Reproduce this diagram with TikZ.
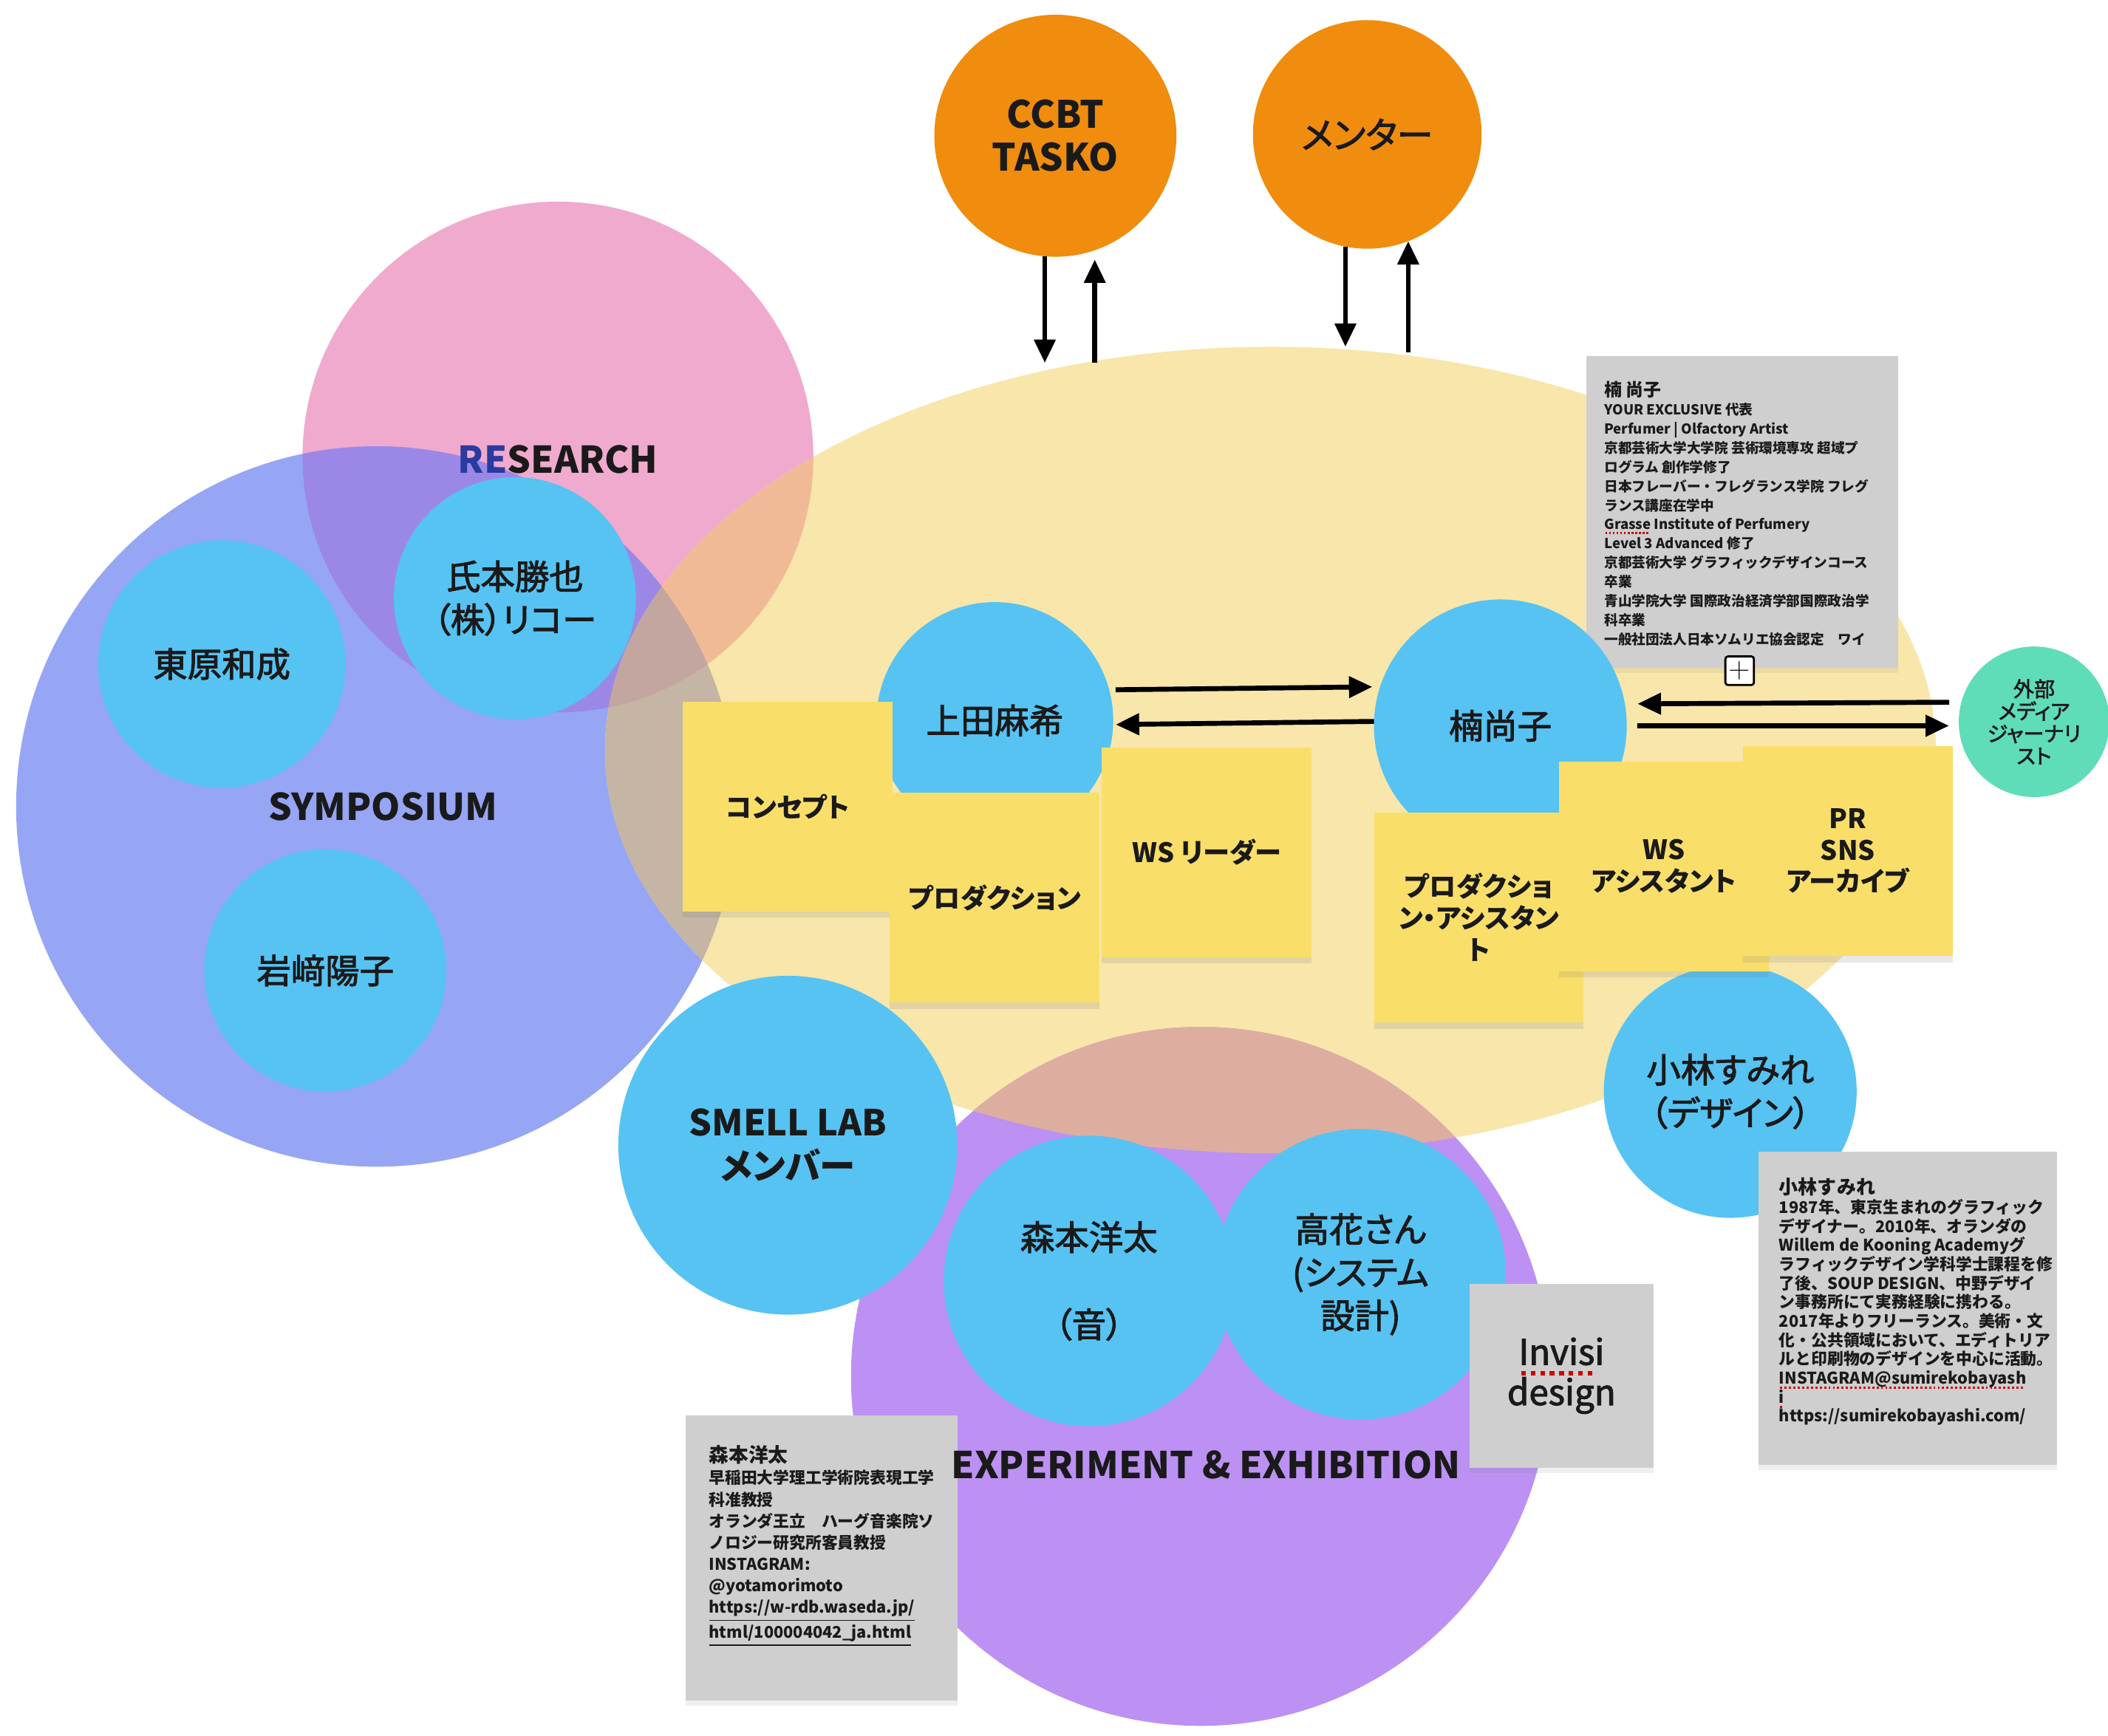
\documentclass[tikz,border=0pt]{standalone}
\usepackage{fontspec}
\newfontfamily\jp{Noto Sans CJK JP}[RawFeature=+palt]
\newfontfamily\jpm{Noto Sans CJK JP}[RawFeature=+palt, FakeBold=2.2]
\newfontfamily\jpn{Noto Sans CJK JP}
\usetikzlibrary{arrows.meta,shadows}
\definecolor{pinkc}{HTML}{F0AACD}
\definecolor{bluec}{HTML}{96A6F5}
\definecolor{yelc}{HTML}{F8E6AA}
\definecolor{purc}{HTML}{BC91F3}
\definecolor{pbc}{HTML}{9B88E6}
\definecolor{pyc}{HTML}{F1BA97}
\definecolor{byc}{HTML}{C4B5A5}
\definecolor{pbyc}{HTML}{C3A69F}
\definecolor{ypc}{HTML}{DDAE9F}
\definecolor{cyanc}{HTML}{56C3F3}
\definecolor{orc}{HTML}{F08C0E}
\definecolor{grnc}{HTML}{5FDCB8}
\definecolor{stk}{HTML}{F9DE6A}
\definecolor{noteg}{HTML}{CFCFCF}
\definecolor{txt}{HTML}{1A1A1A}
\definecolor{rebl}{HTML}{2A3A9E}
\newsavebox\spbox
\newcommand\spellu[1]{\sbox\spbox{#1}\rlap{\raisebox{-0.55ex}{\color{red!80!black}\leaders\hbox to 0.5ex{\hss\rule{0.24ex}{0.24ex}\hss}\hskip\wd\spbox}}\usebox\spbox}
\begin{document}
\begin{tikzpicture}[x=0.018195cm, y=-0.018195cm,
  every node/.style={text=txt},
  person/.style={circle, fill=cyanc, inner sep=0pt, outer sep=0pt, minimum size=#1*1.0354pt, align=center, font=\jpm\fontsize{13.2}{16.6}\selectfont},
  orb/.style={circle, fill=orc, inner sep=0pt, outer sep=0pt, minimum size=#1*1.0354pt, align=center},
  sticky/.style={rectangle, fill=stk, inner sep=0pt, minimum size=156*0.5177pt, align=center, font=\jp\bfseries\fontsize{10.3}{12.2}\selectfont, drop shadow={shadow xshift=0pt, shadow yshift=-2.5pt, opacity=0.18}},
  head/.style={font=\jp\bfseries\fontsize{14.2}{17}\selectfont},
  arr/.style={line width=1.9pt, -{Triangle[length=9pt,width=8pt]}},
  gnote/.style={rectangle, fill=noteg, inner sep=0pt, drop shadow={shadow xshift=0pt, shadow yshift=-2pt, opacity=0.12}},
  ntext/.style={anchor=north west, inner sep=0pt, align=left}]
\useasboundingbox (0,0) rectangle (1568,1291);
\fill[white] (0,0) rectangle (1568,1291);

% ---- large areas
\fill[pinkc] (415,340) circle[radius=190];
\fill[bluec] (280,600) circle[radius=268];
\fill[yelc] (945,558) ellipse[x radius=495, y radius=300];
\fill[purc] (893,1024) circle[radius=260];
\begin{scope}
  \clip (280,600) circle[radius=268];
  \fill[byc] (945,558) ellipse[x radius=495, y radius=300];
\end{scope}
\begin{scope}
  \clip (415,340) circle[radius=190];
  \fill[pbc] (280,600) circle[radius=268];
  \fill[pyc] (945,558) ellipse[x radius=495, y radius=300];
  \clip (280,600) circle[radius=268];
  \fill[pbyc] (945,558) ellipse[x radius=495, y radius=300];
\end{scope}
\begin{scope}
  \clip (945,558) ellipse[x radius=495, y radius=300];
  \fill[ypc] (893,1024) circle[radius=260];
\end{scope}

% ---- note for Kusunoki (under the circle)
\node[gnote, minimum width=232*0.5177pt, minimum height=232*0.5177pt] (n1) at (1296,381) {};
\node[ntext, font=\jpn\bfseries\fontsize{5.3}{7.35}\selectfont] (t1) at (1193,283) {%
{\fontsize{6.8}{7.35}\selectfont 楠 尚子}\\
YOUR EXCLUSIVE 代表\\
Perfumer | Olfactory Artist\\
京都芸術大学大学院 芸術環境専攻 超域プ\\
ログラム 創作学修了\\
日本フレーバー・フレグランス学院 フレグ\\
ランス講座在学中\\
\spellu{Grasse} Institute of Perfumery\\
Level 3 Advanced 修了\\
京都芸術大学 グラフィックデザインコース\\
卒業\\
青山学院大学 国際政治経済学部国際政治学\\
科卒業\\
一般社団法人日本ソムリエ協会認定　ワイ};
\node[draw=black, fill=white, line width=0.8pt, rounded corners=1pt, minimum size=11pt, inner sep=0pt, font=\fontsize{11}{11}\selectfont] (plus) at (1294,499) {+};

% ---- orange and green circles
\node[orb=90, font=\jp\bfseries\fontsize{14.5}{16.6}\selectfont] (ccbt) at (785,101) {CCBT\\TASKO};
\node[orb=85, font=\jpm\fontsize{14}{16.6}\selectfont] (mentor) at (1017,100) {メンター};
\node[circle, fill=grnc, inner sep=0pt, minimum size=56*1.0354pt, align=center, font=\jpm\fontsize{8}{8.6}\selectfont] (gaibu) at (1513,537) {外部\\メディア\\ジャーナリ\\スト};

% ---- people
\node[person=92] (higashi) at (165,494) {東原和成};
\node[person=90] (ujimoto) at (383,445) {氏本勝也\\（株）リコー};
\node[person=90] (iwasaki) at (242,722) {岩﨑陽子};
\node[person=88] (ueda) at (740,536) {上田麻希};
\node[person=94] (kusu) at (1116,540) {楠尚子};
\node[person=126, font=\jp\bfseries\fontsize{13.8}{16.6}\selectfont] (smell) at (586,852) {SMELL LAB\\メンバー};
\node[person=108] (morimoto) at (810,953) {森本洋太\\[17pt]（音）};
\node[person=108] (takahana) at (1012,948) {高花さん\\(システム\\設計)};
\node[person=94] (kobayashi) at (1287,812) {小林すみれ\\（デザイン）};

% ---- sticky notes
\node[sticky] (s1) at (586,600) {コンセプト};
\node[sticky] (s2) at (740,668) {プロダクション};
\node[sticky] (s3) at (897.5,634) {WS リーダー};
\node[sticky] (s4) at (1100,682.5) {プロダクショ\\ン・アシスタン\\ト};
\node[sticky] (s5) at (1237.5,644.5) {WS\\アシスタント};
\node[sticky] (s6) at (1374.5,633) {PR\\SNS\\アーカイブ};

% ---- notes
\node[gnote, minimum width=222*0.5177pt, minimum height=233*0.5177pt] (n2) at (1419,973.5) {};
\node[ntext, font=\jpn\bfseries\fontsize{6.2}{7.3}\selectfont] (t2) at (1323,876) {%
{\fontsize{7.4}{7.3}\selectfont 小林すみれ}\\
1987年、東京生まれのグラフィック\\
デザイナー。2010年、オランダの\\
Willem de Kooning Academyグ\\
ラフィックデザイン学科学士課程を修\\
了後、SOUP DESIGN、中野デザイ\\
ン事務所にて実務経験に携わる。\\
2017年よりフリーランス。美術・文\\
化・公共領域において、エディトリア\\
ルと印刷物のデザインを中心に活動。\\
\spellu{INSTAGRAM@sumirekobayash}\\
\spellu{i}\\
https://sumirekobayashi.com/};
\node[gnote, minimum width=202*0.5177pt, minimum height=212*0.5177pt] (n3) at (611,1159) {};
\node[ntext, font=\jpn\bfseries\fontsize{6.2}{8.3}\selectfont] (t3) at (527,1075) {%
{\fontsize{7.6}{8.3}\selectfont 森本洋太}\\
早稲田大学理工学術院表現工学\\
科准教授\\
オランダ王立　ハーグ音楽院ソ\\
ノロジー研究所客員教授\\
INSTAGRAM:\\
@yotamorimoto\\
\underline{https://w-rdb.waseda.jp/}\\
\underline{html/100004042\_ja.html}};
\node[gnote, minimum width=137*0.5177pt, minimum height=137*0.5177pt, align=center, font=\jpm\fontsize{13.5}{15.5}\selectfont] (inv) at (1161.5,1023.5) {\spellu{Invisi}\\design};

% ---- headings
\node[head] (research) at (415,342) {\textcolor{rebl}{RE}SEARCH};
\node[head] (symposium) at (285,600) {SYMPOSIUM};
\node[head] (exhibition) at (897,1090) {EXPERIMENT \& EXHIBITION};

% ---- arrows
\coordinate (topA) at (800,270);
\coordinate (topB) at (1030,258);
\coordinate (topC) at (1030,262);
\draw[arr] (ccbt.265.5) -- (ccbt.265.5 |- topA);
\draw[arr, shorten >=3.6pt] (ccbt.289.5 |- topA) -- (ccbt.289.5);
\draw[arr] (mentor.259.8) -- (mentor.259.8 |- topB);
\draw[arr] (mentor.291.4 |- topC) -- (mentor.291.4);
\draw[arr, shorten <=2.5pt, shorten >=3pt] (ueda.15.8) -- (kusu.162.7);
\draw[arr, shorten >=1pt] (kusu.178.8) -- (ueda.358.7);
\draw[arr, shorten <=4.5pt, shorten >=4.9pt] (gaibu.165.5) -- (kusu.10.4);
\draw[arr, shorten <=4pt, shorten >=3.6pt] (kusu.0) -- (gaibu.183.1);
\end{tikzpicture}
\end{document}
